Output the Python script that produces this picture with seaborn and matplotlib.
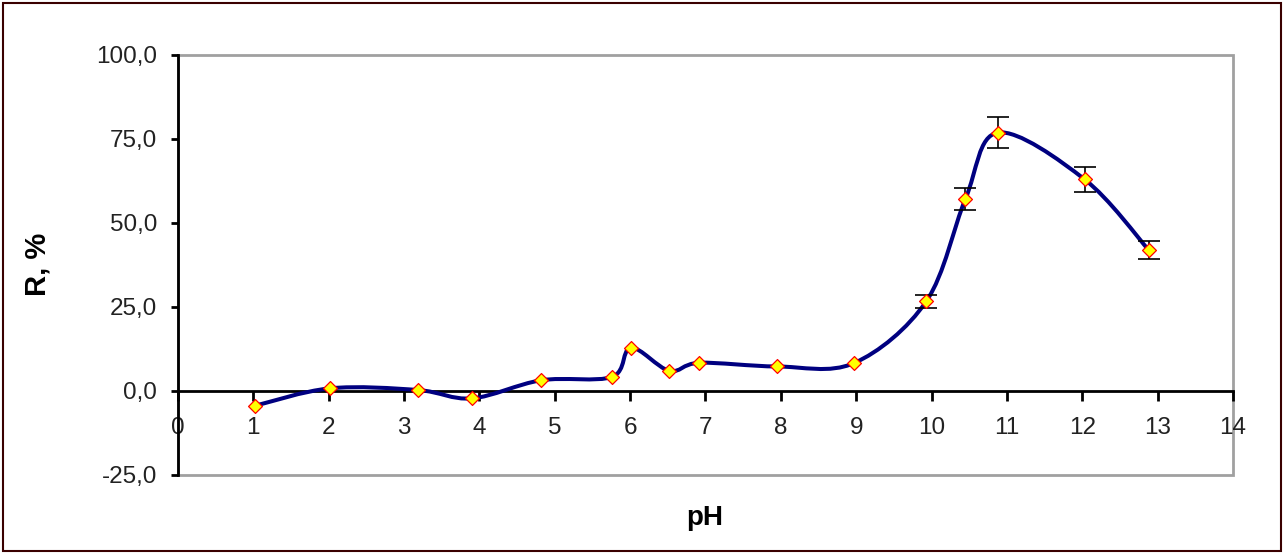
import numpy as np
import pandas as pd
import matplotlib
matplotlib.use("Agg")
import matplotlib.pyplot as plt
from matplotlib.path import Path
from matplotlib.patches import PathPatch, Rectangle
from matplotlib.ticker import FuncFormatter
import seaborn as sns

# Data
ph = [1.02, 2.02, 3.18, 3.90, 4.82, 5.76, 6.01, 6.52, 6.92, 7.95, 8.97, 9.93, 10.45, 10.88, 12.03, 12.88]
r_pct = [-4.4, 0.8, 0.3, -2.2, 3.2, 4.2, 12.9, 6.0, 8.4, 7.3, 8.3, 26.7, 57.2, 76.9, 63.0, 42.0]
r_err = [0, 0, 0, 0, 0, 0, 0, 0, 0, 0, 0, 2.0, 3.3, 4.6, 3.8, 2.6]

x_ticks = list(range(0, 15))
y_ticks = [-25, 0, 25, 50, 75, 100]

df = pd.DataFrame({"pH": ph, "R": r_pct, "err": r_err})

sns.set_theme(style="white")
plt.rcParams["font.family"] = ["Liberation Sans", "DejaVu Sans"]

W, H = 1284, 554
fig = plt.figure(figsize=(W / 100, H / 100), dpi=100)
L, Rr, T, B = 178, 1233, 55, 475
ax = fig.add_axes([L / W, 1 - B / H, (Rr - L) / W, (B - T) / H])

# smooth line (Excel-like smoothing via cubic Bezier through the points)
xs = np.asarray(df["pH"], float)
ys = np.asarray(df["R"], float)
n = len(xs)
verts = [(xs[0], ys[0])]
codes = [Path.MOVETO]
for i in range(n - 1):
    p0 = np.array([xs[max(i - 1, 0)], ys[max(i - 1, 0)]])
    p1 = np.array([xs[i], ys[i]])
    p2 = np.array([xs[i + 1], ys[i + 1]])
    p3 = np.array([xs[min(i + 2, n - 1)], ys[min(i + 2, n - 1)]])
    c1 = p1 + (p2 - p0) / 6.0
    c2 = p2 - (p3 - p1) / 6.0
    verts += [tuple(c1), tuple(c2), tuple(p2)]
    codes += [Path.CURVE4] * 3
ax.add_patch(PathPatch(Path(verts, codes), facecolor="none", edgecolor="#000080",
                       linewidth=2.9, zorder=3, capstyle="round", joinstyle="round"))

# error bars
mask = df["err"] > 0
ax.errorbar(df["pH"][mask], df["R"][mask], yerr=df["err"][mask], fmt="none",
            ecolor="black", elinewidth=1.2, capsize=8, capthick=1.2, zorder=4)

# markers
sns.scatterplot(data=df, x="pH", y="R", marker="D", s=50, color="#FFFF00",
                edgecolor="#FF0000", linewidth=0.9, zorder=5, ax=ax, legend=False)

ax.set_xlim(0, 14)
ax.set_ylim(-25, 100)
ax.set_xticks(x_ticks)
ax.set_yticks(y_ticks)
ax.yaxis.set_major_formatter(FuncFormatter(lambda v, p: f"{v:.1f}".replace(".", ",")))
ax.set_xlabel("")
ax.set_ylabel("")

for s in ["top", "right"]:
    ax.spines[s].set_visible(False)
ax.spines["left"].set_color("black")
ax.spines["left"].set_linewidth(2.0)
ax.spines["bottom"].set_position(("data", 0))
ax.spines["bottom"].set_color("black")
ax.spines["bottom"].set_linewidth(2.0)
ax.spines["bottom"].set_zorder(2.5)

# plot-area border (grey)
ax.add_patch(Rectangle((0, 0), 1, 1, transform=ax.transAxes, fill=False,
                       edgecolor="#a0a0a0", linewidth=2.0, zorder=0.5, clip_on=False))

ax.tick_params(axis="x", direction="out", length=7, width=2, color="black",
               labelsize=17.5, pad=12, bottom=True)
ax.tick_params(axis="y", direction="out", length=5, width=2, color="black",
               labelsize=17.5, pad=10, left=True)
for lbl in ax.get_xticklabels() + ax.get_yticklabels():
    lbl.set_color("#222222")

fig.text(37 / W, 1 - 264 / H, "R, %", rotation=90, ha="center", va="center",
         fontsize=21, fontweight="bold", color="black")
fig.text(705 / W, 1 - 518 / H, "pH", ha="center", va="center",
         fontsize=20, fontweight="bold", color="black")

# outer chart border
fig.patches.append(Rectangle((3 / W, 3 / H), 1 - 6 / W, 1 - 6 / H, transform=fig.transFigure,
                             fill=False, edgecolor="#3a0000", linewidth=1.5))

fig.savefig("out.png", dpi=100, facecolor="white")
